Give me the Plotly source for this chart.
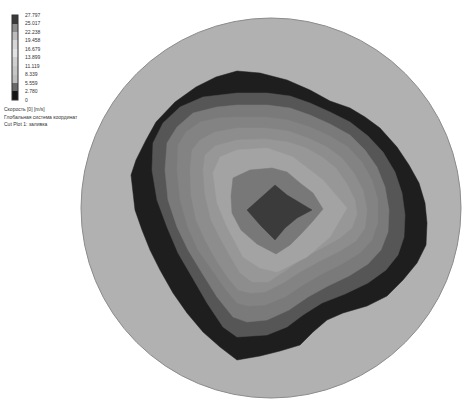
import plotly.graph_objects as go

# ---------------- data ----------------
PIPE_R = 190  # pipe radius (mm), section centred at (0, 0)

# legend levels (m/s) and labels
LEVELS = [0, 2.780, 5.559, 8.339, 11.119, 13.899, 16.679, 19.458, 22.238, 25.017, 27.797]
LEVEL_LABELS = ["0", "2.780", "5.559", "8.339", "11.119", "13.899", "16.679",
                "19.458", "22.238", "25.017", "27.797"]
LEGEND_COLORS = ["#151515", "#6a6a6a", "#bdbdbd", "#c6c6c6", "#d0d0d0",
                 "#e3e3e3", "#d6d6d6", "#bcbcbc", "#8c8c8c", "#3a3a3a"]

# iso-velocity contour boundaries (x, y in mm), outermost first
ISO_1 = [(-34, 137), (-11, 135), (16, 128), (39, 118), (59, 107), (79, 100), (94, 91),
         (109, 80), (126, 61), (138, 43), (148, 25), (154, 5), (156, -15), (155, -37),
         (146, -55), (132, -72), (116, -88), (96, -98), (72, -105), (56, -112), (42, -124),
         (29, -137), (9, -143), (-11, -148), (-34, -152), (-51, -139), (-68, -124),
         (-84, -105), (-98, -85), (-111, -62), (-121, -42), (-129, -22), (-136, -2),
         (-140, 33), (-135, 48), (-125, 68), (-115, 86), (-96, 106), (-75, 121), (-55, 131)]
ISO_2 = [(-119, 38), (-118, 65), (-108, 85), (-91, 101), (-68, 111), (-34, 115), (-4, 115),
         (19, 112), (39, 105), (59, 96), (79, 86), (97, 72), (112, 56), (124, 36), (131, 15),
         (134, -7), (133, -29), (127, -47), (115, -62), (97, -75), (74, -86), (51, -95),
         (32, -107), (16, -119), (-4, -127), (-34, -129), (-48, -119), (-64, -95),
         (-79, -69), (-93, -45), (-104, -19), (-114, 8)]
ISO_3 = [(-106, 38), (-104, 65), (-94, 81), (-78, 95), (-54, 101), (-34, 103), (-4, 103),
         (19, 100), (39, 93), (59, 84), (79, 73), (94, 58), (106, 41), (114, 21), (118, -2),
         (117, -24), (110, -42), (97, -56), (78, -68), (57, -78), (37, -89), (18, -102),
         (-4, -112), (-24, -114), (-38, -109), (-54, -89), (-69, -65), (-83, -42),
         (-94, -19), (-103, 8)]
ISO_4 = [(-94, 38), (-93, 63), (-85, 76), (-71, 86), (-53, 90), (-34, 91), (-6, 91), (17, 88),
         (39, 81), (59, 72), (77, 61), (91, 46), (101, 28), (107, 8), (107, -14), (101, -32),
         (89, -45), (71, -56), (51, -66), (32, -77), (14, -89), (-6, -97), (-23, -98),
         (-34, -95), (-45, -82), (-59, -62), (-73, -42), (-83, -20), (-91, 8)]
ISO_5 = [(-81, 38), (-79, 58), (-71, 68), (-56, 76), (-34, 80), (-6, 80), (17, 77), (37, 70),
         (56, 61), (71, 50), (83, 35), (92, 18), (96, -2), (94, -20), (85, -33), (69, -43),
         (49, -53), (29, -64), (12, -75), (-6, -84), (-21, -85), (-33, -82), (-43, -70),
         (-55, -52), (-66, -32), (-75, -12), (-80, 13)]
ISO_6 = [(-68, 38), (-66, 53), (-56, 62), (-34, 68), (-6, 69), (17, 66), (35, 60), (51, 51),
         (65, 40), (76, 24), (84, 8), (86, -6), (81, -20), (69, -30), (51, -40), (32, -50),
         (14, -63), (-3, -74), (-19, -74), (-31, -65), (-41, -48), (-51, -30), (-60, -12),
         (-66, 13)]
ISO_7 = [(-58, 35), (-51, 51), (-34, 58), (-4, 60), (22, 51), (52, 28), (76, 0), (59, -29),
         (36, -49), (6, -64), (-11, -60), (-28, -49), (-44, -19), (-54, 5)]
ISO_8 = [(-38, 30), (-21, 38), (1, 40), (16, 36), (29, 25), (42, 15), (52, -1), (42, -13),
         (31, -25), (19, -37), (5, -46), (-14, -36), (-30, -22), (-39, -5), (-40, 12)]
ISO_9 = [(-24, -2), (-10, 11), (4, 23), (16, 13), (29, 5), (41, -2), (26, -10), (14, -20),
         (4, -32), (-10, -18)]

CONTOURS = [ISO_1, ISO_2, ISO_3, ISO_4, ISO_5, ISO_6, ISO_7, ISO_8, ISO_9]
FILL_COLORS = ["#1e1e1e", "#565656", "#7a7a7a", "#838383", "#8d8d8d",
               "#979797", "#a3a3a3", "#787878", "#3b3b3b"]

TITLE_LINES = ["Скорость [0] [m/s]", "Глобальная система координат", "Cut Plot 1: заливка"]

# ---------------- figure ----------------
W, H = 462, 401
fig = go.Figure()

for pts, col in zip(CONTOURS, FILL_COLORS):
    xs = [p[0] for p in pts] + [pts[0][0]]
    ys = [p[1] for p in pts] + [pts[0][1]]
    fig.add_trace(go.Scatter(x=xs, y=ys, mode="lines", fill="toself",
                             fillcolor=col, line=dict(color=col, width=0.5),
                             hoverinfo="skip", showlegend=False))

# discrete colour scale for the legend bar
vmin, vmax = LEVELS[0], LEVELS[-1]
cs = []
for i, c in enumerate(LEGEND_COLORS):
    lo = (LEVELS[i] - vmin) / (vmax - vmin)
    hi = (LEVELS[i + 1] - vmin) / (vmax - vmin)
    cs.append([lo, c])
    cs.append([hi, c])

fig.add_trace(go.Scatter(
    x=[0], y=[0], mode="markers", hoverinfo="skip", showlegend=False,
    marker=dict(color=[vmin], cmin=vmin, cmax=vmax, colorscale=cs, opacity=0,
                size=1, showscale=True,
                colorbar=dict(
                    thickness=6, thicknessmode="pixels",
                    len=85, lenmode="pixels",
                    x=12 / W, xanchor="left", xpad=0,
                    y=1 - 15 / H, yanchor="top", ypad=0,
                    outlinewidth=1, outlinecolor="#333333",
                    tickvals=LEVELS, ticktext=LEVEL_LABELS,
                    ticks="outside", ticklen=6, tickcolor="rgba(0,0,0,0)",
                    tickfont=dict(size=5, color="#333333", family="Liberation Sans"),
                ))))

# pipe wall
fig.add_shape(type="circle", xref="x", yref="y",
              x0=-PIPE_R, x1=PIPE_R, y0=-PIPE_R, y1=PIPE_R,
              fillcolor="#b1b1b1", line=dict(color="#8c8c8c", width=1), layer="below")

for i, t in enumerate(TITLE_LINES):
    fig.add_annotation(text=t, xref="paper", yref="paper",
                       x=2 / W, y=1 - (109 + 7.6 * i) / H, xanchor="left", yanchor="middle",
                       showarrow=False,
                       font=dict(size=5, color="#333333", family="Liberation Sans"))

fig.update_layout(
    width=W, height=H, margin=dict(l=0, r=0, t=0, b=0),
    paper_bgcolor="white", plot_bgcolor="white",
    xaxis=dict(range=[-271, 191], visible=False, fixedrange=True),
    yaxis=dict(range=[-193, 208], visible=False, fixedrange=True),
)

fig.write_html("out.html")
